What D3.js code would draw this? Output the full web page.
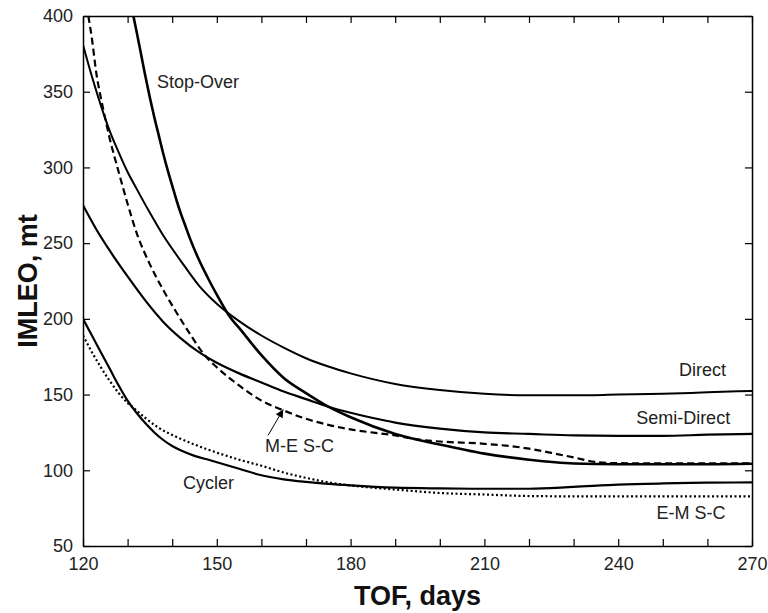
<!DOCTYPE html>
<html>
<head>
<meta charset="utf-8">
<script src="https://cdn.jsdelivr.net/npm/d3@7"></script>
<style>
  body { margin: 0; background: #fff; }
  text { font-family: "Liberation Sans", Arial, sans-serif; }
</style>
</head>
<body>
<svg id="chart"></svg>
<script>
// IMLEO (mt) vs TOF (days), [days, mt] pairs
var direct = [[120,381],[122,360],[124,341],[126,324],[128,310],[130,297],[132,286],[135,270],[138,255],
  [142,238],[146,222],[150,210],[155,198.5],[160,189],[165,181],[170,174],[175,168.5],[180,164],[190,157],
  [200,153],[210,150.5],[220,149.5],[230,149.5],[240,150],[250,150.5],[260,151.5],[270,152.4]];
var stopOver = [[131.3,400],[132,390],[133,375],[134,360],[135,346],[136,333],[137,321],[138,309],
  [139,298],[140,288],[141,278],[142,269],[143,261],[144,253],[146,239],[148,227],[150,216],[153,201],
  [155,194],[160,176],[165,161],[170,151],[175,142],[180,135],[190,124],[200,117],[210,111],[220,107],
  [230,104.5],[240,104],[250,104],[260,104],[270,104.3]];
var semiDirect = [[120,275],[123,259],[126,245],[130,228],[134,212],[138,198],[142,187],[146,178],
  [150,171],[155,164],[160,158],[165,152],[170,147],[175,142],[180,138],[185,134.5],[190,131.5],
  [200,127.5],[210,125],[220,124],[230,123],[240,122.7],[250,122.7],[260,123.5],[270,124]];
var meSC = [[121.2,400],[122,385],[123,362],[124,346],[125,332],[126,319],[128,297],[130,276],[132,257],
  [135,236],[138,219],[141,204],[144,190],[147,177],[150,168],[155,156],[160,146],[165,139.5],[170,134],
  [175,130],[180,127],[190,123],[196,120],[200,119],[210,117.5],[220,114.3],[225,111.5],[230,108.5],
  [235,105.5],[240,104.7],[250,104.6],[260,104.6],[270,104.6]];
var cycler = [[120,200],[122,189],[124,178],[126,167],[128,156],[130,146],[132,138],[134,131],[136,125],
  [138,120],[140,116],[142,113],[145,109.5],[148.5,106.6],[155,101],[160,96.7],[165,94],[170,92.3],
  [175,91],[180,90],[190,88.5],[200,88],[210,87.8],[220,87.8],[230,89],[240,90.5],[250,91.3],[260,91.8],
  [270,92]];
var emSC = [[120,189],[122,178],[124,168],[126,159],[128,151],[130,144.5],[132,139.5],[134,134.5],
  [137,128],[141,122],[145,117],[148.5,113.2],[155,107],[160,103],[165,98.5],[170,95],[175,92],[180,90],
  [185,88.5],[190,87.3],[200,85],[210,84],[220,83],[230,82.8],[240,82.8],[250,82.8],[260,82.8],[270,82.8]];

// curve labels: [name, days, mt, anchor]
var curveLabels = [["Stop-Over",136.6,352.3,"start"],["Direct",264.2,162.1,"end"],
  ["Semi-Direct",265.1,130.4,"end"],["M-E S-C",160.8,112.1,"start"],["Cycler",142.4,87.9,"start"],
  ["E-M S-C",248.6,67.6,"start"]];
var meArrow = [[161.5,123.1],[164.9,140.2]];

var xTicks = d3.range(120, 271, 10);
var xTickLabels = [120, 150, 180, 210, 240, 270];
var yTicks = [50, 100, 150, 200, 250, 300, 350, 400];

var margin = { top: 16, right: 16, bottom: 67, left: 83 },
    W = 768, H = 613,
    width = W - margin.left - margin.right,
    height = H - margin.top - margin.bottom;

var svg = d3.select("#chart").attr("width", W).attr("height", H);
svg.append("rect").attr("width", W).attr("height", H).attr("fill", "#fff");

var g = svg.append("g").attr("transform", "translate(" + margin.left + "," + margin.top + ")");

var x = d3.scaleLinear().domain([120, 270]).range([0, width]);
var y = d3.scaleLinear().domain([50, 400]).range([height, 0]);

g.append("clipPath").attr("id", "clip")
  .append("rect").attr("width", width).attr("height", height);

var series = [
  { data: direct, w: 2, dash: null },
  { data: stopOver, w: 2.6, dash: null },
  { data: semiDirect, w: 2.2, dash: null },
  { data: meSC, w: 2.2, dash: "7,4" },
  { data: cycler, w: 2.2, dash: null },
  { data: emSC, w: 2.2, dash: "2,2.5" }
];

var line = d3.line()
  .x(function(d) { return x(d[0]); })
  .y(function(d) { return y(d[1]); })
  .curve(d3.curveMonotoneX);

g.append("g").attr("clip-path", "url(#clip)")
  .selectAll("path")
  .data(series)
  .enter().append("path")
  .attr("fill", "none")
  .attr("stroke", "#000")
  .attr("stroke-width", function(d) { return d.w; })
  .attr("stroke-dasharray", function(d) { return d.dash; })
  .attr("d", function(d) { return line(d.data); });

// axes, ticks inside on all four sides
function styleAxis(a) {
  a.select(".domain").attr("stroke", "#000").attr("stroke-width", 1.5);
  a.selectAll(".tick line").attr("stroke", "#000").attr("stroke-width", 1.2);
  a.selectAll("text").attr("fill", "#222").style("font-size", "18px");
}

g.append("g").attr("transform", "translate(0," + height + ")")
  .call(d3.axisBottom(x).tickValues(xTicks).tickSizeInner(-7).tickSizeOuter(0).tickPadding(11)
    .tickFormat(function(d) { return xTickLabels.indexOf(d) >= 0 ? d : ""; }))
  .call(styleAxis);
g.append("g")
  .call(d3.axisTop(x).tickValues(xTicks).tickSizeInner(-7).tickSizeOuter(0).tickFormat(""))
  .call(styleAxis);
g.append("g")
  .call(d3.axisLeft(y).tickValues(yTicks).tickSizeInner(-7).tickSizeOuter(0).tickPadding(10))
  .call(styleAxis);
g.append("g").attr("transform", "translate(" + width + ",0)")
  .call(d3.axisRight(y).tickValues(yTicks).tickSizeInner(-7).tickSizeOuter(0).tickFormat(""))
  .call(styleAxis);

// curve labels
g.selectAll(".clabel")
  .data(curveLabels)
  .enter().append("text")
  .attr("class", "clabel")
  .attr("x", function(d) { return x(d[1]); })
  .attr("y", function(d) { return y(d[2]); })
  .attr("text-anchor", function(d) { return d[3]; })
  .attr("fill", "#222")
  .style("font-size", "18px")
  .text(function(d) { return d[0]; });

// arrow to the M-E S-C curve
svg.append("defs").append("marker")
  .attr("id", "arrow")
  .attr("viewBox", "0 0 10 10")
  .attr("refX", 10).attr("refY", 5)
  .attr("markerWidth", 12).attr("markerHeight", 8)
  .attr("markerUnits", "userSpaceOnUse")
  .attr("orient", "auto")
  .append("path").attr("d", "M0,0L10,5L0,10z").attr("fill", "#000");

g.append("line")
  .attr("x1", x(meArrow[0][0])).attr("y1", y(meArrow[0][1]))
  .attr("x2", x(meArrow[1][0])).attr("y2", y(meArrow[1][1]))
  .attr("stroke", "#000").attr("stroke-width", 1)
  .attr("marker-end", "url(#arrow)");

// axis titles
svg.append("text")
  .attr("x", margin.left + width / 2)
  .attr("y", 605)
  .attr("text-anchor", "middle")
  .style("font-size", "27px").style("font-weight", "bold")
  .attr("fill", "#111")
  .text("TOF, days");

svg.append("text")
  .attr("transform", "translate(37," + (margin.top + height / 2) + ") rotate(-90)")
  .attr("text-anchor", "middle")
  .style("font-size", "27px").style("font-weight", "bold")
  .attr("fill", "#111")
  .text("IMLEO, mt");
</script>
</body>
</html>
